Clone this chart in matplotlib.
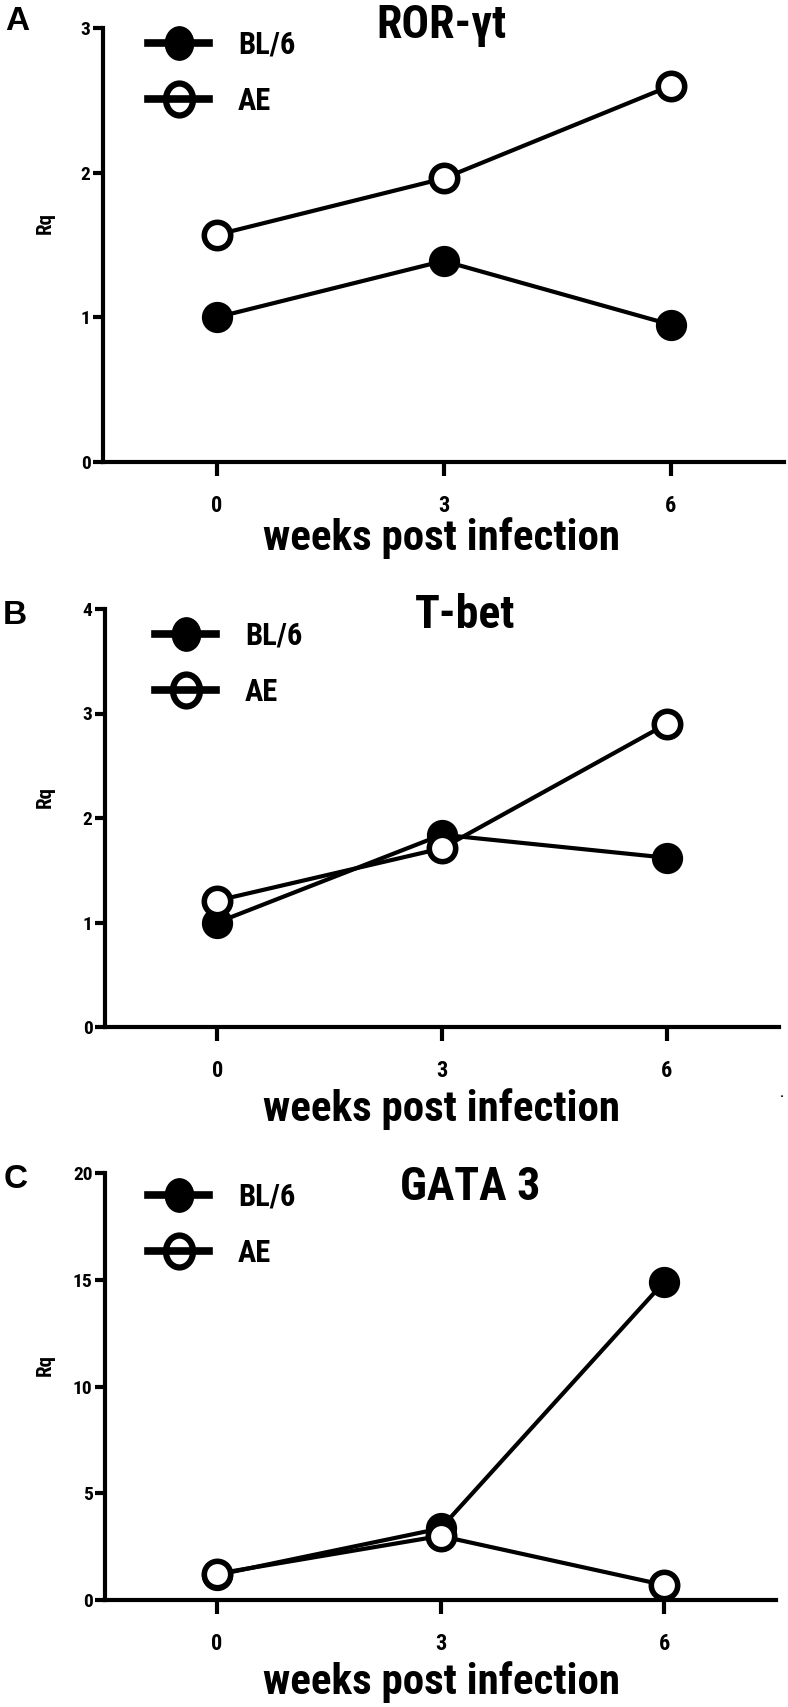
import matplotlib
matplotlib.use("Agg")
import matplotlib.pyplot as plt
from matplotlib.lines import Line2D
from matplotlib.path import Path
from matplotlib.transforms import Affine2D
import logging
logging.getLogger('matplotlib.font_manager').setLevel(logging.ERROR)

NARROW = ['Arial Narrow', 'Liberation Sans Narrow', 'Roboto Condensed', 'Archivo Narrow',
          'PT Sans Narrow', 'Liberation Sans', 'DejaVu Sans']
plt.rcParams['font.family'] = NARROW
plt.rcParams['font.weight'] = 'bold'

weeks = [0, 3, 6]
series_labels = ["BL/6", "AE"]

ror_bl6 = [1.0, 1.39, 0.95]
ror_ae = [1.57, 1.96, 2.60]

tbet_bl6 = [1.0, 1.84, 1.62]
tbet_ae = [1.21, 1.71, 2.90]

gata_bl6 = [1.17, 3.35, 14.9]
gata_ae = [1.23, 3.0, 0.70]

titles = ["ROR-γt", "T-bet", "GATA 3"]
letters = ["A", "B", "C"]
ymaxes = [3, 4, 20]
ysteps = [1, 1, 5]

W, H = 788, 1707
fig = plt.figure(figsize=(W / 100, H / 100), dpi=100)

# axes boxes in pixels: left, right, top, bottom
boxes = [(103, 784, 28, 462), (105, 779, 609, 1027), (105, 776, 1173, 1600)]
title_pos = [(441, 25), (465, 615), (470, 1187)]
letter_pos = [(17, 22), (15, 616), (16, 1180)]
legend_fs = 22
fs_px = legend_fs * 100 / 72
# (line start x, BL/6 marker center y) in pixels
legend_pos = [(148, 49), (155, 640), (148, 1201)]
xlabel_pos = [538, 1109, 1682]

data = [(ror_bl6, ror_ae), (tbet_bl6, tbet_ae), (gata_bl6, gata_ae)]

ellipse = Path.unit_circle().transformed(Affine2D().scale(1.0, 1.18))

lw = 3.0
ms = 20
for i in range(3):
    l, r, t, b = boxes[i]
    ax = fig.add_axes([l / W, 1 - b / H, (r - l) / W, (b - t) / H])
    bl6, ae = data[i]
    ax.plot(weeks, bl6, '-', color='black', lw=lw, marker='o', ms=ms,
            mfc='black', mec='black', mew=2.5, clip_on=False, zorder=3)
    ax.plot(weeks, ae, '-', color='black', lw=lw, marker='o', ms=ms - 1,
            mfc='white', mec='black', mew=4, clip_on=False, zorder=4)
    ax.set_xlim(-1.5, 7.5)
    ax.set_ylim(0, ymaxes[i])
    ax.set_xticks(weeks)
    ax.set_xticklabels([str(w) for w in weeks])
    ax.set_yticks(list(range(0, ymaxes[i] + 1, ysteps[i])))
    for s in ['top', 'right']:
        ax.spines[s].set_visible(False)
    for s in ['left', 'bottom']:
        ax.spines[s].set_linewidth(3)
    ax.tick_params(axis='y', direction='out', length=7, width=3, labelsize=14, pad=2)
    ax.tick_params(axis='x', direction='out', length=10, width=3, labelsize=16, pad=14)
    for lab in ax.get_xticklabels() + ax.get_yticklabels():
        lab.set_fontweight('bold')
    ax.set_ylabel("Rq", fontsize=15, fontweight='bold')
    ax.yaxis.set_label_coords((55 - l) / (r - l), 0.55)

    fig.text(title_pos[i][0] / W, 1 - title_pos[i][1] / H, titles[i], ha='center', va='center',
             fontsize=33, fontweight='bold')
    fig.text(letter_pos[i][0] / W, 1 - letter_pos[i][1] / H, letters[i], ha='center', va='center',
             fontsize=24, fontweight='bold', family=['Liberation Sans', 'DejaVu Sans'])
    fig.text(442 / W, 1 - xlabel_pos[i] / H, "weeks post infection", ha='center', va='center',
             fontsize=31, fontweight='bold')

    handles = [Line2D([], [], color='black', lw=5.5, marker=ellipse, ms=24, mfc='black', mec='black', mew=1),
               Line2D([], [], color='black', lw=5.5, marker=ellipse, ms=23, mfc='none', mec='black', mew=4.5)]
    # anchor = line start minus (borderaxespad + borderpad); marker row offset
    ax_x = legend_pos[i][0] - 0.9 * fs_px
    ax_y = legend_pos[i][1] - 0.9 * fs_px - 0.5 * fs_px * 1.25
    fig.legend(handles, series_labels, loc='upper left',
               bbox_to_anchor=(ax_x / W, 1 - ax_y / H),
               frameon=False, handlelength=2.0, handletextpad=0.95,
               labelspacing=0.85, prop={'family': NARROW, 'weight': 'bold', 'size': legend_fs})

fig.text(781 / W, 1 - 1093 / H, ".", ha='center', va='center', fontsize=10)

fig.savefig("out.png", dpi=100)
